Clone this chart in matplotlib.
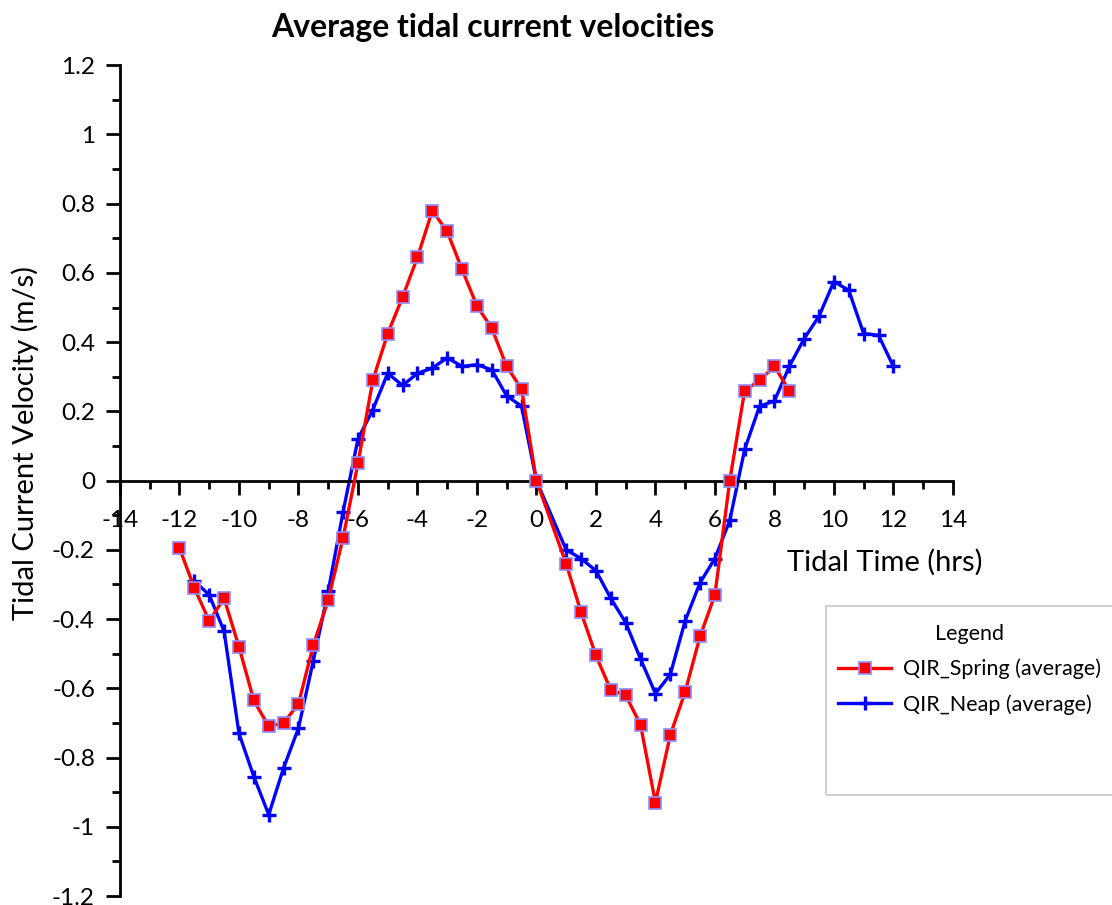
import matplotlib.pyplot as plt
import numpy as np
from matplotlib.patches import Rectangle
from matplotlib.ticker import MultipleLocator

plt.rcParams['font.family'] = ['Lato', 'DejaVu Sans']
plt.rcParams['axes.unicode_minus'] = False

# tidal time (hrs)
spring_t = [-12, -11.5, -11, -10.5, -10, -9.5, -9, -8.5, -8, -7.5, -7, -6.5, -6,
            -5.5, -5, -4.5, -4, -3.5, -3, -2.5, -2, -1.5, -1, -0.5, 0,
            1, 1.5, 2, 2.5, 3, 3.5, 4, 4.5, 5, 5.5, 6, 6.5, 7, 7.5, 8, 8.5]
spring_v = [-0.195, -0.31, -0.405, -0.34, -0.48, -0.635, -0.71, -0.70, -0.645,
            -0.475, -0.345, -0.165, 0.05, 0.29, 0.425, 0.53, 0.645, 0.78, 0.72,
            0.61, 0.505, 0.44, 0.33, 0.265, 0.0, -0.24, -0.38, -0.505, -0.605,
            -0.62, -0.705, -0.93, -0.735, -0.61, -0.45, -0.33, 0.0, 0.26, 0.29,
            0.33, 0.26]

neap_t = [-11.5, -11, -10.5, -10, -9.5, -9, -8.5, -8, -7.5, -7, -6.5, -6,
          -5.5, -5, -4.5, -4, -3.5, -3, -2.5, -2, -1.5, -1, -0.5, 0,
          1, 1.5, 2, 2.5, 3, 3.5, 4, 4.5, 5, 5.5, 6, 6.5, 7, 7.5, 8, 8.5,
          9, 9.5, 10, 10.5, 11, 11.5, 12]
neap_v = [-0.29, -0.33, -0.435, -0.73, -0.855, -0.965, -0.83, -0.715, -0.52,
          -0.32, -0.09, 0.12, 0.205, 0.31, 0.275, 0.31, 0.325, 0.355, 0.33,
          0.335, 0.32, 0.245, 0.215, 0.0, -0.2, -0.225, -0.26, -0.34, -0.41,
          -0.515, -0.615, -0.56, -0.405, -0.295, -0.225, -0.115, 0.09, 0.215,
          0.23, 0.33, 0.41, 0.475, 0.575, 0.55, 0.425, 0.42, 0.33]

y_ticks = np.arange(-1.2, 1.21, 0.2)
y_labels = ['-1.2', '-1', '-0.8', '-0.6', '-0.4', '-0.2', '0',
            '0.2', '0.4', '0.6', '0.8', '1', '1.2']

fig = plt.figure(figsize=(11.12, 9.05), dpi=100)
ax = fig.add_axes([0.1079, 0.0099, 0.749, 0.918])

ax.plot(spring_t, spring_v, color='#ff0000', lw=2.4, marker='s', markersize=8.5,
        markerfacecolor='#ff0000', markeredgecolor='#8c8cff', markeredgewidth=1.2,
        label='QIR_Spring (average)', zorder=3)
ax.plot(neap_t, neap_v, color='#0000ff', lw=2.4, marker='+', markersize=10,
        markeredgewidth=2.4, label='QIR_Neap (average)', zorder=2)

ax.set_xlim(-14, 14)
ax.set_ylim(-1.2, 1.2)
ax.spines['bottom'].set_position(('data', 0))
ax.spines['top'].set_visible(False)
ax.spines['right'].set_visible(False)
for s in ['left', 'bottom']:
    ax.spines[s].set_linewidth(2)

ax.xaxis.set_major_locator(MultipleLocator(2))
ax.xaxis.set_minor_locator(MultipleLocator(1))
ax.yaxis.set_minor_locator(MultipleLocator(0.1))
ax.set_yticks(y_ticks)
ax.set_yticklabels(y_labels)
ax.tick_params(axis='both', which='major', direction='out', length=10, width=2,
               labelsize=17.5)
ax.tick_params(axis='both', which='minor', direction='out', length=6, width=2)
ax.tick_params(axis='x', which='major', pad=11)
ax.tick_params(axis='y', which='major', pad=8)

fig.text(0.443, 0.970, 'Average tidal current velocities', ha='center', va='center',
         fontsize=23, fontweight='bold')
fig.text(0.023, 0.51, 'Tidal Current Velocity (m/s)', rotation=90,
         ha='center', va='center', fontsize=21)
fig.text(0.796, 0.379, 'Tidal Time (hrs)', ha='center', va='center', fontsize=21)

# legend frame (runs past the right edge of the figure)
fig.patches.append(Rectangle((826 / 1112, 110 / 905), 0.3, 189 / 905,
                             transform=fig.transFigure, fill=False,
                             edgecolor='#d0d0d0', lw=1.5))
leg = fig.legend(loc='upper left', bbox_to_anchor=(829 / 1112, 1 - 615 / 905),
                 borderaxespad=0, frameon=False, title='Legend', fontsize=15.5,
                 title_fontsize=15.5, handlelength=2.5, handletextpad=0.55,
                 labelspacing=0.7)
leg._legend_box.align = 'center'

fig.savefig('out.png', dpi=100)
